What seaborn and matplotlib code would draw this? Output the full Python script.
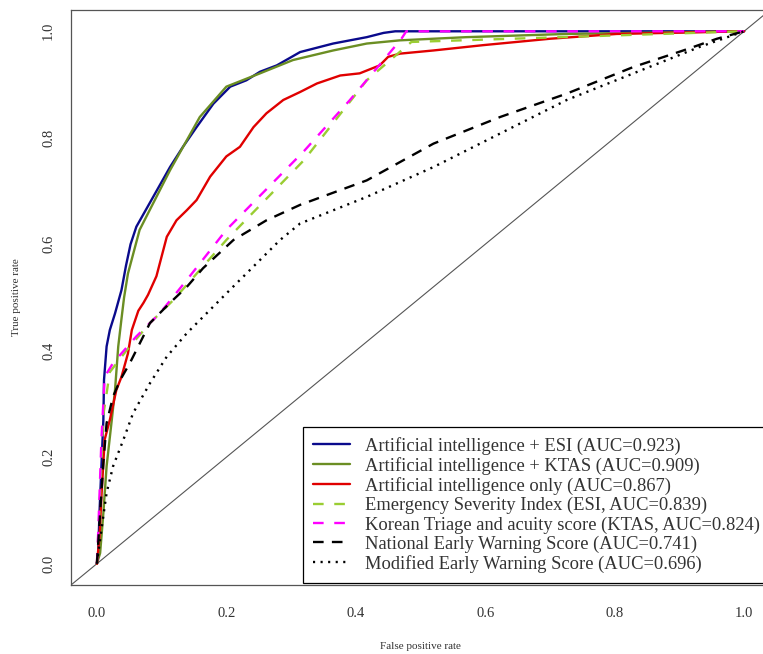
import matplotlib
matplotlib.use("Agg")
import matplotlib.pyplot as plt
import seaborn as sns
import pandas as pd

# ROC points
ai_esi_fpr = [0, 0.002, 0.004, 0.007, 0.010, 0.011, 0.015, 0.020, 0.028, 0.038, 0.045, 0.052, 0.061, 0.087,
              0.113, 0.133, 0.154, 0.180, 0.206, 0.231, 0.252, 0.278, 0.314, 0.365, 0.417, 0.443, 0.461, 1.0]
ai_esi_tpr = [0, 0.02, 0.095, 0.183, 0.270, 0.345, 0.408, 0.439, 0.470, 0.514, 0.560, 0.600, 0.633, 0.689,
              0.745, 0.783, 0.820, 0.864, 0.896, 0.908, 0.924, 0.936, 0.961, 0.977, 0.989, 0.997, 1.0, 1.0]

ai_ktas_fpr = [0, 0.005, 0.010, 0.015, 0.023, 0.028, 0.033, 0.038, 0.042, 0.048, 0.066, 0.092, 0.113, 0.159,
               0.200, 0.252, 0.303, 0.365, 0.417, 0.468, 0.571, 0.726, 0.829, 1.0]
ai_ktas_tpr = [0, 0.02, 0.095, 0.183, 0.270, 0.326, 0.408, 0.460, 0.500, 0.545, 0.627, 0.689, 0.739, 0.839,
               0.896, 0.921, 0.946, 0.964, 0.977, 0.983, 0.989, 0.995, 0.997, 1.0]

ai_only_fpr = [0, 0.004, 0.007, 0.012, 0.020, 0.030, 0.038, 0.048, 0.054, 0.064, 0.072, 0.079, 0.092, 0.108,
               0.123, 0.139, 0.154, 0.175, 0.200, 0.221, 0.242, 0.262, 0.288, 0.314, 0.340, 0.376, 0.406,
               0.437, 0.450, 0.468, 0.520, 0.597, 0.700, 0.803, 1.0]
ai_only_tpr = [0, 0.05, 0.126, 0.233, 0.270, 0.326, 0.351, 0.395, 0.439, 0.475, 0.490, 0.505, 0.540, 0.614,
               0.645, 0.664, 0.683, 0.727, 0.765, 0.783, 0.820, 0.846, 0.871, 0.886, 0.902, 0.917, 0.921,
               0.936, 0.952, 0.958, 0.964, 0.974, 0.986, 0.995, 1.0]

esi_fpr = [0, 0.004, 0.010, 0.020, 0.046, 0.082, 0.118, 0.200, 0.320, 0.417, 0.486, 1.0]
esi_tpr = [0, 0.10, 0.28, 0.36, 0.401, 0.452, 0.495, 0.608, 0.758, 0.908, 0.980, 1.0]

ktas_fpr = [0, 0.002, 0.007, 0.012, 0.025, 0.061, 0.097, 0.139, 0.200, 0.320, 0.391, 0.470, 0.478, 1.0]
ktas_tpr = [0, 0.058, 0.233, 0.351, 0.377, 0.427, 0.470, 0.533, 0.627, 0.775, 0.871, 0.985, 1.0, 1.0]

news_fpr = [0, 0.005, 0.010, 0.015, 0.025, 0.036, 0.051, 0.082, 0.113, 0.139, 0.164, 0.211, 0.262, 0.314,
            0.417, 0.520, 0.623, 0.726, 0.829, 0.906, 0.958, 1.0]
news_tpr = [0, 0.095, 0.189, 0.264, 0.314, 0.345, 0.377, 0.452, 0.490, 0.520, 0.555, 0.608, 0.645, 0.674,
            0.720, 0.789, 0.839, 0.883, 0.933, 0.964, 0.986, 1.0]

mews_fpr = [0, 0.007, 0.015, 0.025, 0.041, 0.056, 0.082, 0.108, 0.139, 0.175, 0.216, 0.231, 0.283, 0.314,
            0.417, 0.520, 0.623, 0.726, 0.829, 0.932, 1.0]
mews_tpr = [0, 0.064, 0.133, 0.183, 0.233, 0.283, 0.339, 0.389, 0.433, 0.477, 0.527, 0.545, 0.608, 0.639,
            0.689, 0.745, 0.808, 0.871, 0.921, 0.971, 1.0]

labels = [
    "Artificial intelligence + ESI (AUC=0.923)",
    "Artificial intelligence + KTAS (AUC=0.909)",
    "Artificial intelligence only (AUC=0.867)",
    "Emergency Severity Index (ESI, AUC=0.839)",
    "Korean Triage and acuity score (KTAS, AUC=0.824)",
    "National Early Warning Score (AUC=0.741)",
    "Modified Early Warning Score (AUC=0.696)",
]

series = [
    (ai_esi_fpr, ai_esi_tpr, "#0a0a8c", "-"),
    (ai_ktas_fpr, ai_ktas_tpr, "#6b8e23", "-"),
    (ai_only_fpr, ai_only_tpr, "#e00000", "-"),
    (esi_fpr, esi_tpr, "#9acd32", (0, (4.5, 4.5))),
    (ktas_fpr, ktas_tpr, "#ff00ff", (0, (4.5, 4.5))),
    (news_fpr, news_tpr, "black", (0, (4.5, 3.5))),
    (mews_fpr, mews_tpr, "black", (0, (0.9, 2.3))),
]

sns.set_style("white")
plt.rcParams['font.family'] = ['Liberation Serif', 'DejaVu Serif']

W, H = 763, 654
fig = plt.figure(figsize=(W / 100, H / 100), dpi=100)
ax = fig.add_axes([71 / W, 1 - 585 / H, (770 - 71) / W, (585 - 10) / H])

# diagonal reference across the whole plot region
ax.axline((0, 0), (1, 1), color="#555555", lw=0.8, zorder=1)

for (fpr, tpr, col, ls), lab in zip(series, labels):
    df = pd.DataFrame({"fpr": fpr, "tpr": tpr})
    sns.lineplot(data=df, x="fpr", y="tpr", ax=ax, color=col, linestyle=ls, lw=1.7,
                 sort=False, estimator=None, label=lab)

ax.set_xlim(-0.04, 1.04)
ax.set_ylim(-0.04, 1.04)
ax.set_xticks([0, 0.2, 0.4, 0.6, 0.8, 1.0])
ax.set_yticks([0, 0.2, 0.4, 0.6, 0.8, 1.0])
ax.set_xticklabels(["0.0", "0.2", "0.4", "0.6", "0.8", "1.0"])
ax.set_yticklabels(["0.0", "0.2", "0.4", "0.6", "0.8", "1.0"], rotation=90, va="center")
ax.tick_params(axis="both", direction="out", length=6, width=0.8, color="#555555",
               labelsize=10.5, labelcolor="#333333")
ax.tick_params(axis="x", pad=10)
ax.tick_params(axis="y", pad=5.5)
for sp in ax.spines.values():
    sp.set_color("#555555")
    sp.set_linewidth(0.9)

ax.set_xlabel("False positive rate", fontsize=8, color="#333333", labelpad=16)
ax.set_ylabel("True positive rate", fontsize=8, color="#333333", labelpad=15)

leg = ax.legend(loc="lower left", bbox_to_anchor=(303 / W, 1 - 583 / H),
                bbox_transform=fig.transFigure, fontsize=13.3, frameon=True, fancybox=False,
                framealpha=1, edgecolor="black", borderpad=0.55, labelspacing=0.11,
                handlelength=2.0, handletextpad=0.8, borderaxespad=0)
leg.get_frame().set_linewidth(0.9)
for t in leg.get_texts():
    t.set_color("#333333")

fig.savefig("out.png", dpi=100)
